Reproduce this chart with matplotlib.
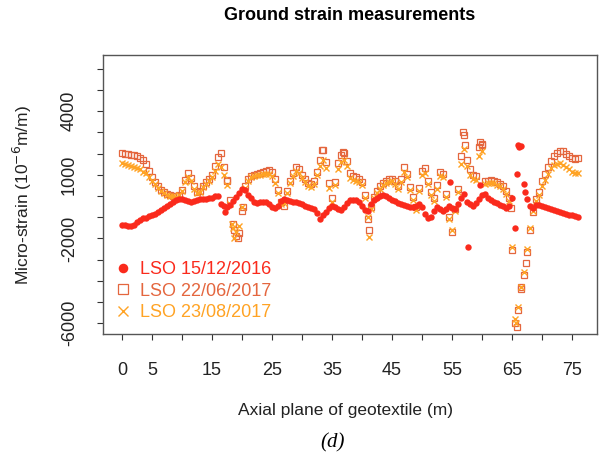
import matplotlib
matplotlib.use("Agg")
import matplotlib.pyplot as plt
import numpy as np

plt.rcParams['font.family'] = ['Liberation Sans', 'DejaVu Sans']

# distance along the geotextile (m), one reading every 0.5 m
dist = [i * 0.5 for i in range(153)]

# LSO 15/12/2016
strain_dec16 = [
    -1370, -1380, -1400, -1415, -1380, -1250, -1150, -1060, -1020, -960,
    -920, -850, -740, -650, -570, -480, -380, -280, -200, -120,
    -120, -180, -250, -270, -220, -180, -160, -140, -120, -110,
    -80, 20, -10, -380, -450, -520, -420, -260, -50, 150,
    330, 280, 50, -100, -300, -340, -280, -270, -300, -380,
    -500, -560, -450, -250, -120, -180, -250, -270, -300, -350,
    -400, -470, -520, -560, -600, -800, -1100, -900, -760, -550,
    -450, -500, -620, -640, -500, -350, -200, -180, -190, -300,
    -450, -650, -700, -400, -200, -100, 0, 50, -20, -100,
    -180, -250, -330, -400, -430, -470, -500, -500, -450, -360,
    -500, -850, -1050, -1000, -700, -500, -600, -720, -620, -450,
    -550, -620, -380, -80, 100, -300, -400, -480, -350, -150,
    50, 100, -100, -200, -280, -350, -420, -480, -550, -450,
    -100, -1525, 2400, 2350, 560, -150, -450, -550, -430, -430,
    -470, -520, -560, -600, -660, -700, -740, -800, -860, -880,
    -920, -960, -1000,
]
# LSO 22/06/2017
strain_jun17 = [
    2040, 2000, 1960, 1940, 1930, 1880, 1800, 1700, 1500, 1200,
    880, 650, 450, 300, 180, 80, 30, 0, -20, 60,
    300, 750, 1070, 850, 450, 180, 250, 480, 650, 780,
    1000, 1400, 1850, 2050, 1350, 700, -200, -1300, -1900, -1750,
    -700, 450, 800, 950, 1000, 1050, 1080, 1120, 1180, 1220,
    1150, 800, 300, -300, -450, 250, 700, 1100, 1380, 1250,
    1000, 800, 600, 580, 700, 1150, 1700, 2150, 1600, 600,
    -100, 650, 1550, 1950, 2050, 1650, 1070, 950, 880, 800,
    650, 50, -1100, -500, -50, 250, 450, 620, 720, 780,
    820, 700, 450, 800, 1350, 1050, 440, -50, -500, 400,
    1200, 1300, 700, 200, -100, 500, 1150, 1050, 100, -1000,
    -1700, -600, 350, 1900, 2900, 1700, 1250, 1000, 950, 2300,
    2450, 700, 720, 750, 720, 650, 580, 450, 250, -100,
    -2550, -6000, -5400, -4400, -3750, -2650, -1600, -750, -150, 200,
    700, 1050, 1350, 1650, 1880, 2050, 2130, 2110, 2000, 1880,
    1800, 1740, 1780,
]
# LSO 23/08/2017
strain_aug17 = [
    1540, 1520, 1460, 1420, 1380, 1330, 1250, 1150, 1070, 900,
    720, 560, 380, 230, 120, 50, 10, -10, -30, 30,
    250, 650, 900, 700, 350, 130, 200, 420, 580, 700,
    900, 1200, 1500, 1380, 1000, 500, -400, -1500, -1700, -1400,
    -500, 400, 720, 880, 930, 980, 1000, 1020, 1050, 1050,
    950, 600, 150, -400, -350, 150, 600, 950, 1200, 1080,
    850, 650, 450, 430, 550, 1000, 1400, 1700, 1300, 400,
    -300, 500, 1250, 1600, 1700, 1400, 850, 750, 700, 650,
    500, -100, -1000, -600, -100, 150, 350, 520, 600, 650,
    700, 580, 350, 650, 1150, 900, 300, -200, -650, 250,
    1000, 1100, 550, 50, -250, 350, 950, 900, -50, -1100,
    -1600, -700, 200, 1500, 2200, 1400, 1000, 800, 750, 1900,
    2100, 550, 600, 620, 600, 520, 450, 320, 100, -250,
    -2400, -5800, -5220, -4300, -3600, -2500, -1500, -700, -250, 50,
    450, 750, 1050, 1300, 1450, 1520, 1540, 1470, 1350, 1250,
    1150, 1100, 1100,
]

# readings that fall between the 0.5 m steps
extra_dist_dec16 = [17.2, 54.7, 57.7, 59.7, 65.9, 66.2, 67.2]
extra_strain_dec16 = [-740, 675, -2390, 520, 1040, 2300, 200]
extra_dist_jun17 = [17.45, 18.6, 19.4, 20.1, 33.4, 36.9, 41.2, 56.9, 57.2,
                    59.7, 60.1, 64.8, 65.9, 66.6, 67.3]
extra_strain_jun17 = [755, -1600, -2000, -500, 2170, 2090, -1600, 3030, 2405,
                      2560, 2405, -580, -6160, -4280, -3175]
extra_dist_aug17 = [18.3, 18.6, 41.2, 65.7]
extra_strain_aug17 = [-1300, -2000, -1930, -6000]

labels = ["LSO 15/12/2016", "LSO 22/06/2017", "LSO 23/08/2017"]
colors = ["#FA2A1C", "#E4663E", "#FFA324"]

x_ticks = list(range(0, 80, 5))
x_ticklabels = ["" if t in (10, 20, 30, 40, 50, 60, 70) else str(t) for t in x_ticks]
y_ticks = list(range(-6000, 7000, 1000))
y_ticklabels = [str(t) if t in (-6000, -2000, 1000, 4000) else "" for t in y_ticks]

fig = plt.figure(figsize=(6, 4.67), dpi=100)
ax = fig.add_axes([103 / 600, 133 / 467, 494 / 600, 279 / 467])

ax.plot(dist + extra_dist_jun17, strain_jun17 + extra_strain_jun17, ls="none",
        marker="s", ms=4.5, mfc="none", mec=colors[1], mew=0.9, label=labels[1])
ax.plot(dist + extra_dist_aug17, strain_aug17 + extra_strain_aug17, ls="none",
        marker="x", ms=4.5, mec=colors[2], mew=1.0, label=labels[2])
ax.plot(dist + extra_dist_dec16, strain_dec16 + extra_strain_dec16, ls="none",
        marker="o", ms=4.6, mfc=colors[0], mec=colors[0], mew=0, label=labels[0])

ax.set_xlim(-3.17, 79.2)
ax.set_ylim(-6510, 6650)
ax.set_xticks(x_ticks)
ax.set_xticklabels(x_ticklabels, fontsize=13, color="#222222")
ax.set_yticks(y_ticks)
ax.set_yticklabels(y_ticklabels, fontsize=13, color="#222222", rotation=90, va="center")
ax.tick_params(axis="x", length=4, pad=16, color="#333333")
ax.tick_params(axis="y", length=4, pad=14, color="#333333")
for s in ax.spines.values():
    s.set_color("#555555")
    s.set_linewidth(1)

h, l = ax.get_legend_handles_labels()
order = [2, 0, 1]
leg = ax.legend([h[i] for i in order], [l[i] for i in order], loc="lower left",
                bbox_to_anchor=(0.022, 0.045), frameon=False, fontsize=13,
                markerscale=1.5, handlelength=1.0, handletextpad=0.45,
                labelspacing=0.26, borderpad=0, borderaxespad=0)
for txt, c in zip(leg.get_texts(), colors):
    txt.set_color(c)

fig.text(350 / 600, 1 - 15 / 467, "Ground strain measurements", ha="center",
         va="center", fontsize=13, fontweight="bold")
fig.text(345 / 600, 1 - 411 / 467, "Axial plane of geotextile (m)", ha="center",
         va="center", fontsize=12.5, color="#222222")
fig.text(22 / 600, 1 - 195 / 467, r"Micro-strain (10$^{-6}$m/m)", ha="center",
         va="center", rotation=90, fontsize=12.5, color="#222222")
fig.text(333 / 600, 1 - 443 / 467, "(d)", ha="center", va="center", fontsize=15,
         style="italic", family="Liberation Serif")

fig.savefig("out.png", dpi=100)
